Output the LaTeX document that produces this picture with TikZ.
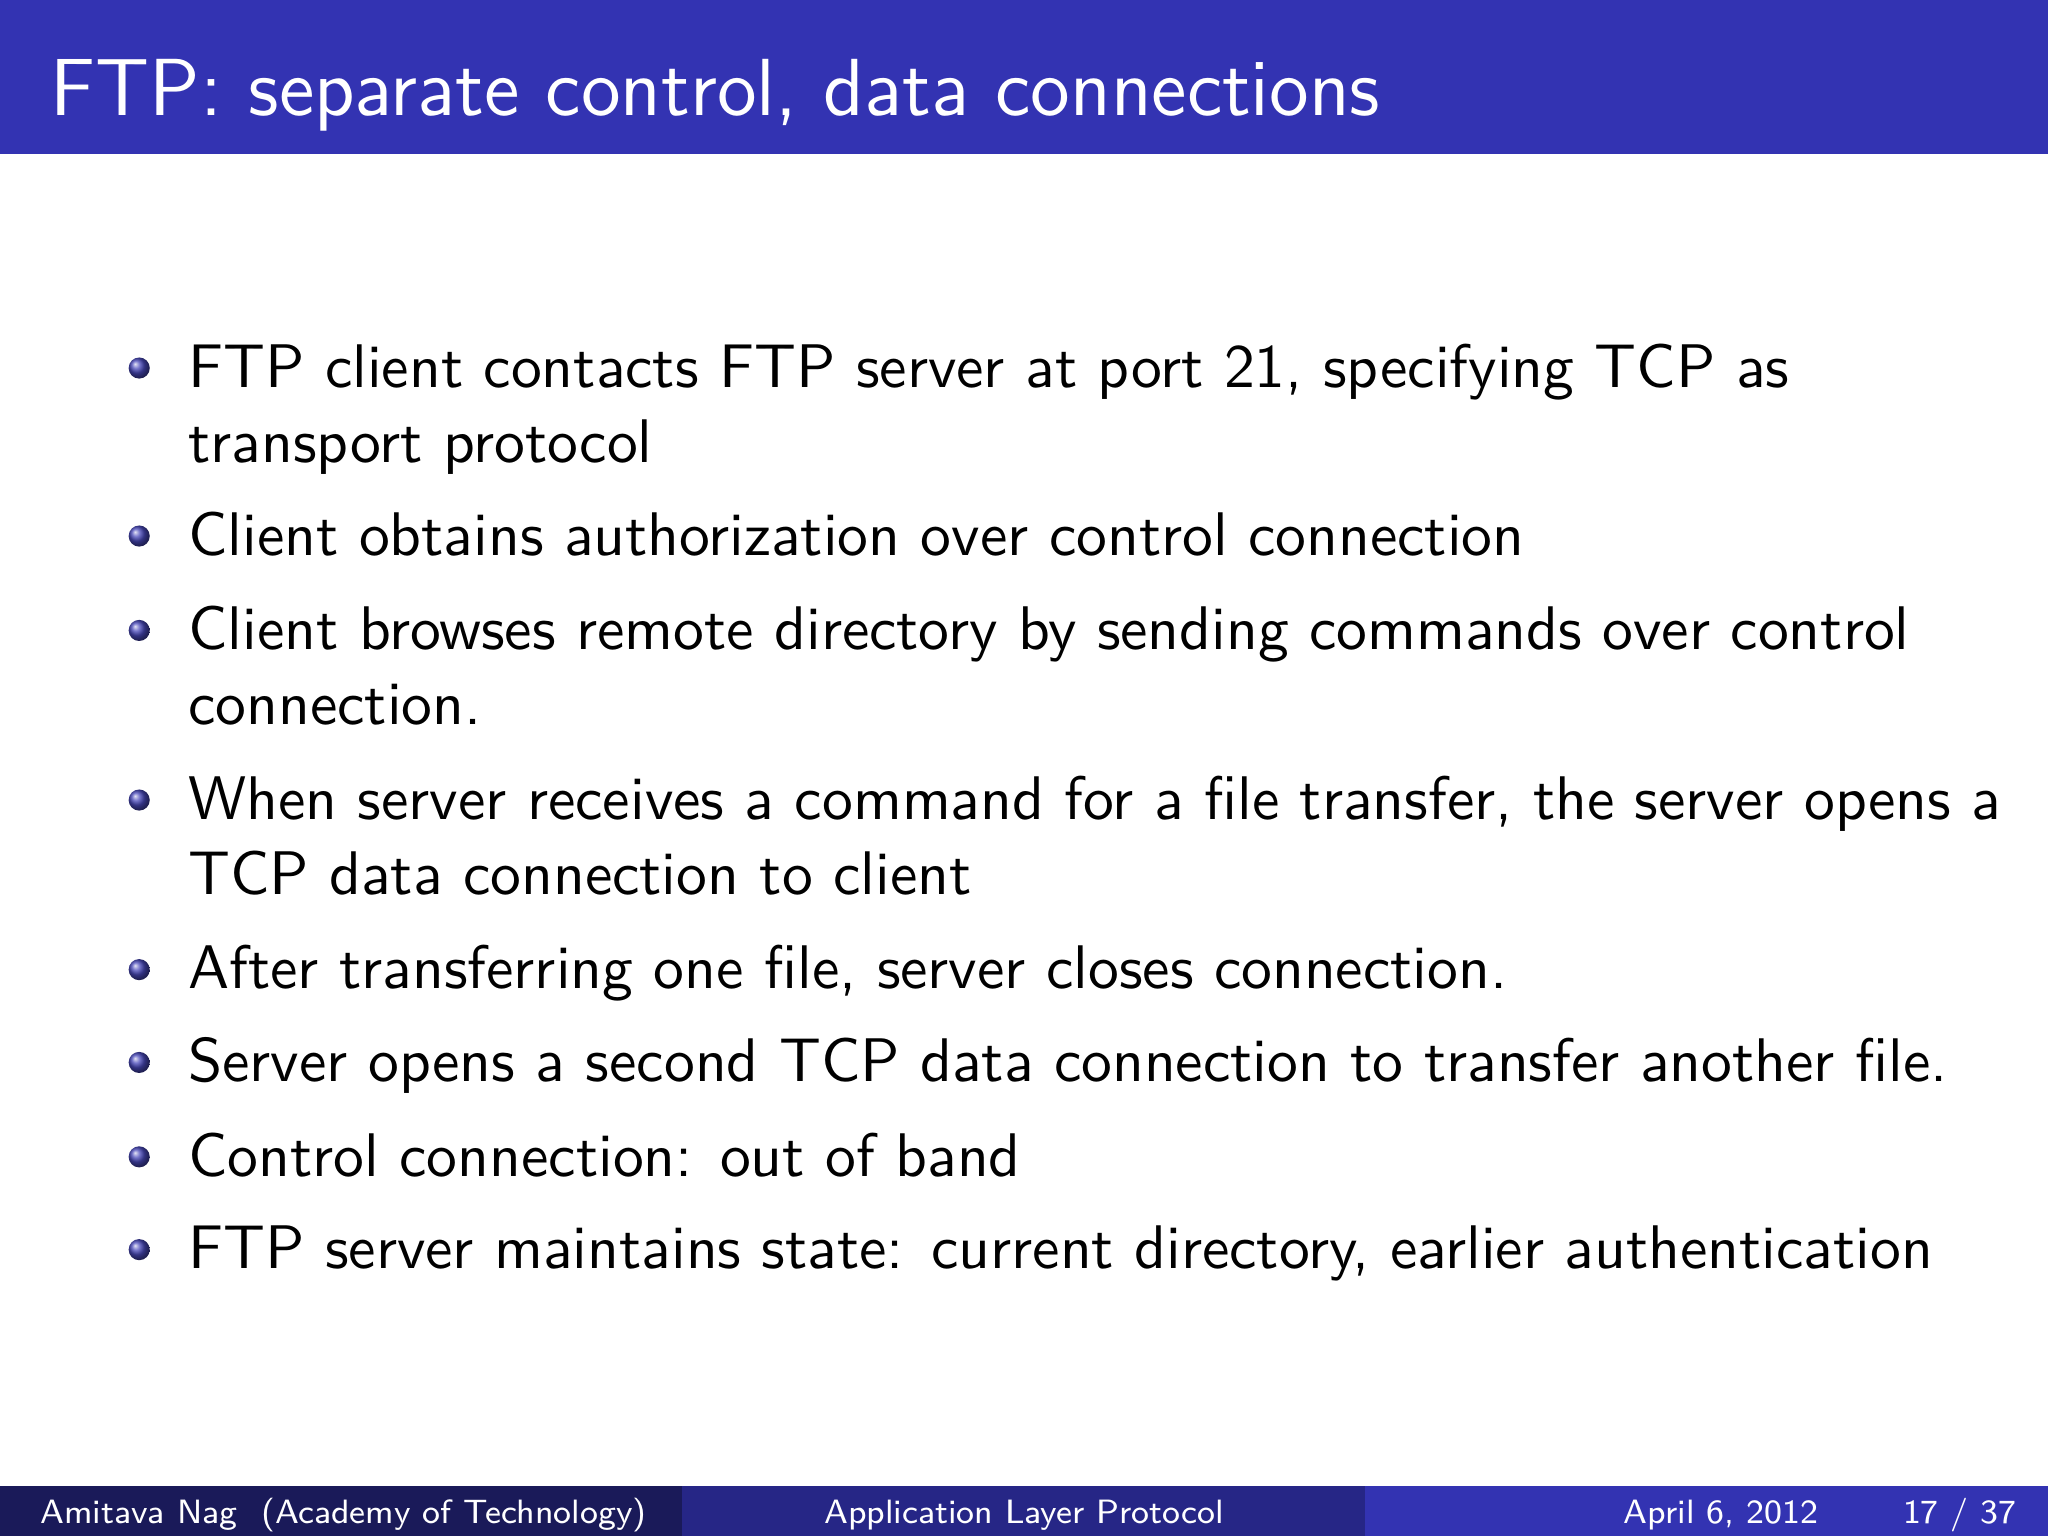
\documentclass[tikz,border=0pt]{standalone}
\usepackage{tikz}
\usetikzlibrary{positioning,shadings}
\definecolor{slideblue}{RGB}{51,51,178}
\definecolor{footmid}{RGB}{38,38,134}
\definecolor{footdark}{RGB}{26,26,89}

\begin{document}
\begin{tikzpicture}[
        font=\sffamily,
        item/.style={anchor=base west, inner sep=0pt, font=\sffamily\fontsize{10.95}{13.4}\selectfont},
        foot/.style={anchor=base, inner sep=0pt, text=white, font=\sffamily\fontsize{6}{7}\selectfont},
        ball/.style={ball color=slideblue!90, draw=none}
    ]
        \useasboundingbox (0,0) rectangle (12.8,-9.6);
        % title bar
        \fill[slideblue] (0,0) rectangle (12.8,-0.963);
        \node[anchor=base west, inner sep=0pt, text=white, font=\sffamily\fontsize{14.4}{17}\selectfont] (title) at (0.31,-0.72) {FTP: separate control, data connections};
        % bullets
        \foreach \y in {2.42,3.47,4.06,5.12,6.18,6.76,7.35,7.93}
            \shade[ball] (0.87,-\y+0.12) circle (0.066);
        \node[item] (b1) at (1.17,-2.42) {FTP client contacts FTP server at port 21, specifying TCP as};
        \node[item] (b1x) at (1.17,-2.89) {transport protocol};
        \node[item] (b2) at (1.17,-3.47) {Client obtains authorization over control connection};
        \node[item] (b3) at (1.17,-4.06) {Client browses remote directory by sending commands over control};
        \node[item] (b3x) at (1.17,-4.53) {connection.};
        \node[item] (b4) at (1.17,-5.12) {When server receives a command for a file transfer, the server opens a};
        \node[item] (b4x) at (1.17,-5.59) {TCP data connection to client};
        \node[item] (b5) at (1.17,-6.18) {After transferring one file, server closes connection.};
        \node[item] (b6) at (1.17,-6.76) {Server opens a second TCP data connection to transfer another file.};
        \node[item] (b7) at (1.17,-7.35) {Control connection: out of band};
        \node[item] (b8) at (1.17,-7.93) {FTP server maintains state: current directory, earlier authentication};
        % footline
        \fill[footdark] (0,-9.29) rectangle (4.26,-9.6);
        \fill[footmid] (4.26,-9.29) rectangle (8.53,-9.6);
        \fill[slideblue] (8.53,-9.29) rectangle (12.8,-9.6);
        \node[foot, anchor=base west] (author) at (0.245,-9.52) {Amitava Nag~~(Academy of Technology)};
        \node[foot] (talk) at (6.4,-9.52) {Application Layer Protocol};
        \node[foot, anchor=base east] (date) at (11.37,-9.52) {April 6, 2012};
        \node[foot, anchor=base east] (page) at (12.61,-9.52) {17 / 37};
    \end{tikzpicture}
\end{document}
